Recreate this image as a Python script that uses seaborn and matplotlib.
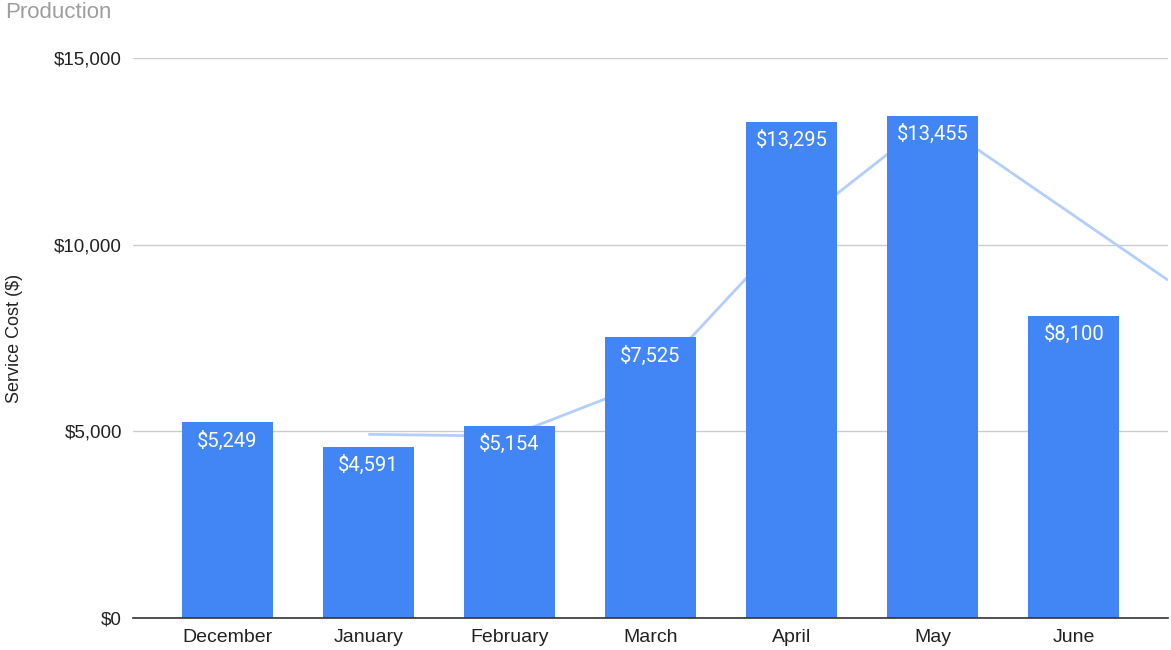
import matplotlib
matplotlib.use("Agg")
import matplotlib.pyplot as plt
import seaborn as sns
import numpy as np
import pandas as pd
from matplotlib.ticker import FuncFormatter

# chart data
months = ["December", "January", "February", "March", "April", "May", "June"]
costs = [5249, 4591, 5154, 7525, 13295, 13455, 8100]
# light blue trend line (starts at January)
trend_months = ["January", "February", "March", "April", "May", "June"]
trend_values = [4920, 4870, 6340, 10410, 13375, 10780]
y_ticks = [0, 5000, 10000, 15000]

bar_color = "#4285f4"
trend_color = "#b3cefb"

sns.set_theme(style="white")
plt.rcParams["font.family"] = ["Liberation Sans", "DejaVu Sans"]

df = pd.DataFrame({"Month": months, "Cost": costs})

fig = plt.figure(figsize=(11.71, 6.5), dpi=100)
ax = fig.add_axes([133 / 1171, 1 - 618 / 650, (1168 - 133) / 1171, (618 - 58) / 650])

sns.barplot(data=df, x="Month", y="Cost", color=bar_color, width=0.645,
            saturation=1, ax=ax, zorder=3, edgecolor="none")

# trend line behind the bars, carried on to the right edge of the plot
xlim = (-0.667, len(months) - 1 + 0.667)
tx = [months.index(m) for m in trend_months]
slope = trend_values[-1] - trend_values[-2]
tx_ext = tx + [xlim[1]]
ty_ext = trend_values + [trend_values[-1] + slope * (xlim[1] - tx[-1])]
ax.plot(tx_ext, ty_ext, color=trend_color, lw=2, zorder=2, solid_capstyle="butt")

# value labels inside the bar tops
for i, v in enumerate(costs):
    ax.annotate(f"${v:,}", (i, v), xytext=(0, -6), textcoords="offset points",
                ha="center", va="top", color="white", fontsize=14.5,
                family=["Roboto", "DejaVu Sans"], zorder=4)

ax.set_xlim(*xlim)
ax.set_ylim(0, 15000)
ax.set_yticks(y_ticks)
ax.yaxis.set_major_formatter(FuncFormatter(lambda v, p: f"${int(v):,}"))
ax.grid(axis="y", color="#cccccc", lw=1, zorder=0)
ax.set_axisbelow(True)
for s in ["left", "right", "top"]:
    ax.spines[s].set_visible(False)
ax.spines["bottom"].set_color("#333333")
ax.spines["bottom"].set_linewidth(1.2)
ax.spines["bottom"].set_zorder(5)
ax.tick_params(axis="y", length=0, labelsize=13.5, colors="#222222", pad=8)
ax.tick_params(axis="x", length=0, labelsize=14, colors="#222222", pad=8)
ax.set_xlabel("")
ax.set_ylabel("Service Cost ($)", fontsize=13, color="#222222", labelpad=22)

fig.text(5 / 1171, 1 - 13 / 650, "Production", color="#9e9e9e", fontsize=16,
         ha="left", va="center")

fig.savefig("out.png", dpi=100)
